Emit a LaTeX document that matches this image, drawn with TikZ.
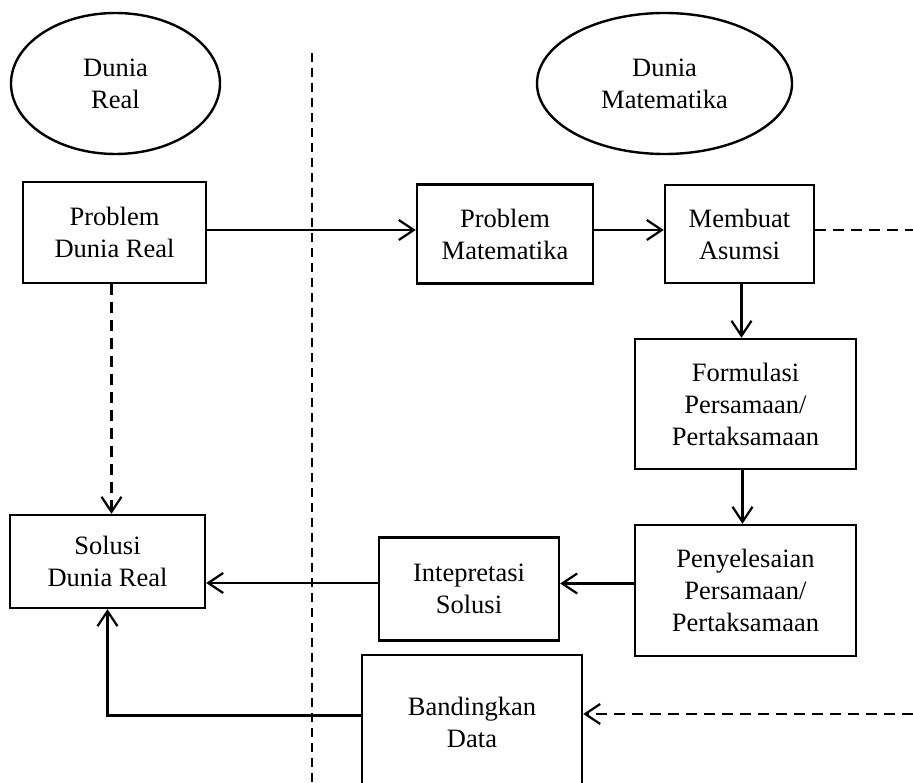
\documentclass[tikz,border=0pt]{standalone}
\usepackage{fontspec}
\setmainfont{Liberation Serif}
\usetikzlibrary{arrows.meta,shapes.geometric}
\begin{document}
\begin{tikzpicture}[x=1pt,y=-1pt,
  txt/.style={align=center,inner sep=0pt,font=\fontsize{26.5}{32}\selectfont},
  box/.style={txt,draw,line width=2.4pt,rectangle},
  ell/.style={txt,draw,line width=2.4pt,ellipse},
  conn/.style={line width=2.2pt,-{Straight Barb[length=15pt,width=20pt,line width=2.2pt]}},
  dconn/.style={conn,dash pattern=on 11pt off 7pt},
  dline/.style={line width=2.2pt,dash pattern=on 11pt off 7pt},
  sep/.style={line width=1.8pt,dash pattern=on 9pt off 6pt}
]
\useasboundingbox (0,0) rectangle (913,783);
\clip (0,0) rectangle (913,783);
\fill[white] (0,0) rectangle (913,783);

% ellipses
\node[ell,minimum width=209pt,minimum height=141pt] (er) at (115.5,83.5) {Dunia\\Real};
\node[ell,minimum width=255pt,minimum height=141pt] (em) at (664.5,83.5) {Dunia\\Matematika};

% separator
\coordinate (vt) at (312,53);
\coordinate (vb) at (312,790);
\draw[sep] (vt) -- (vb);

% boxes
\node[box,minimum width=183pt,minimum height=101pt] (pdr) at (114.5,232.5) {Problem\\Dunia Real};
\node[box,minimum width=176pt,minimum height=99pt] (pm) at (505,234) {Problem\\Matematika};
\node[box,minimum width=149pt,minimum height=98pt] (ma) at (739.5,234) {Membuat\\Asumsi};
\node[box,minimum width=221pt,minimum height=130pt] (fp) at (745.5,404) {Formulasi\\Persamaan/\\Pertaksamaan};
\node[box,minimum width=221pt,minimum height=131pt] (pp) at (745.5,590.5) {Penyelesaian\\Persamaan/\\Pertaksamaan};
\node[box,minimum width=180pt,minimum height=103pt] (is) at (469,589) {Intepretasi\\Solusi};
\node[box,minimum width=195pt,minimum height=93pt] (sdr) at (107.5,561.5) {Solusi\\Dunia Real};
\node[box,minimum width=220pt,minimum height=135pt] (bd) at (472,722.5) {Bandingkan\\Data};

% edge coordinates
\coordinate (r1) at (913,230);
\coordinate (r2) at (913,714);

% connectors
\draw[conn] ([yshift=2.5pt]pdr.east) -- ([yshift=2.5pt]pdr.east -| pm.west);
\draw[conn] ([yshift=4pt]pm.east) -- ([yshift=4pt]pm.east -| ma.west);
\draw[dline] (ma.east |- r1) -- (r1);
\draw[conn] ([xshift=2pt]ma.south) -- ([xshift=2pt]ma.south |- fp.north);
\draw[conn] ([xshift=-3pt]fp.south) -- ([xshift=-3pt]fp.south |- pp.north);
\draw[conn] ([yshift=7pt]pp.west) -- ([yshift=7pt]pp.west -| is.east);
\draw[conn] ([yshift=6pt]is.west) -- ([yshift=6pt]is.west -| sdr.east);
\draw[dconn] ([xshift=-3pt]pdr.south) -- ([xshift=-3pt]pdr.south |- sdr.north);
\draw[conn] ([yshift=7pt]bd.west) -| (sdr.south);
\draw[dconn] (r2) -- (r2 -| bd.east);
\end{tikzpicture}
\end{document}
